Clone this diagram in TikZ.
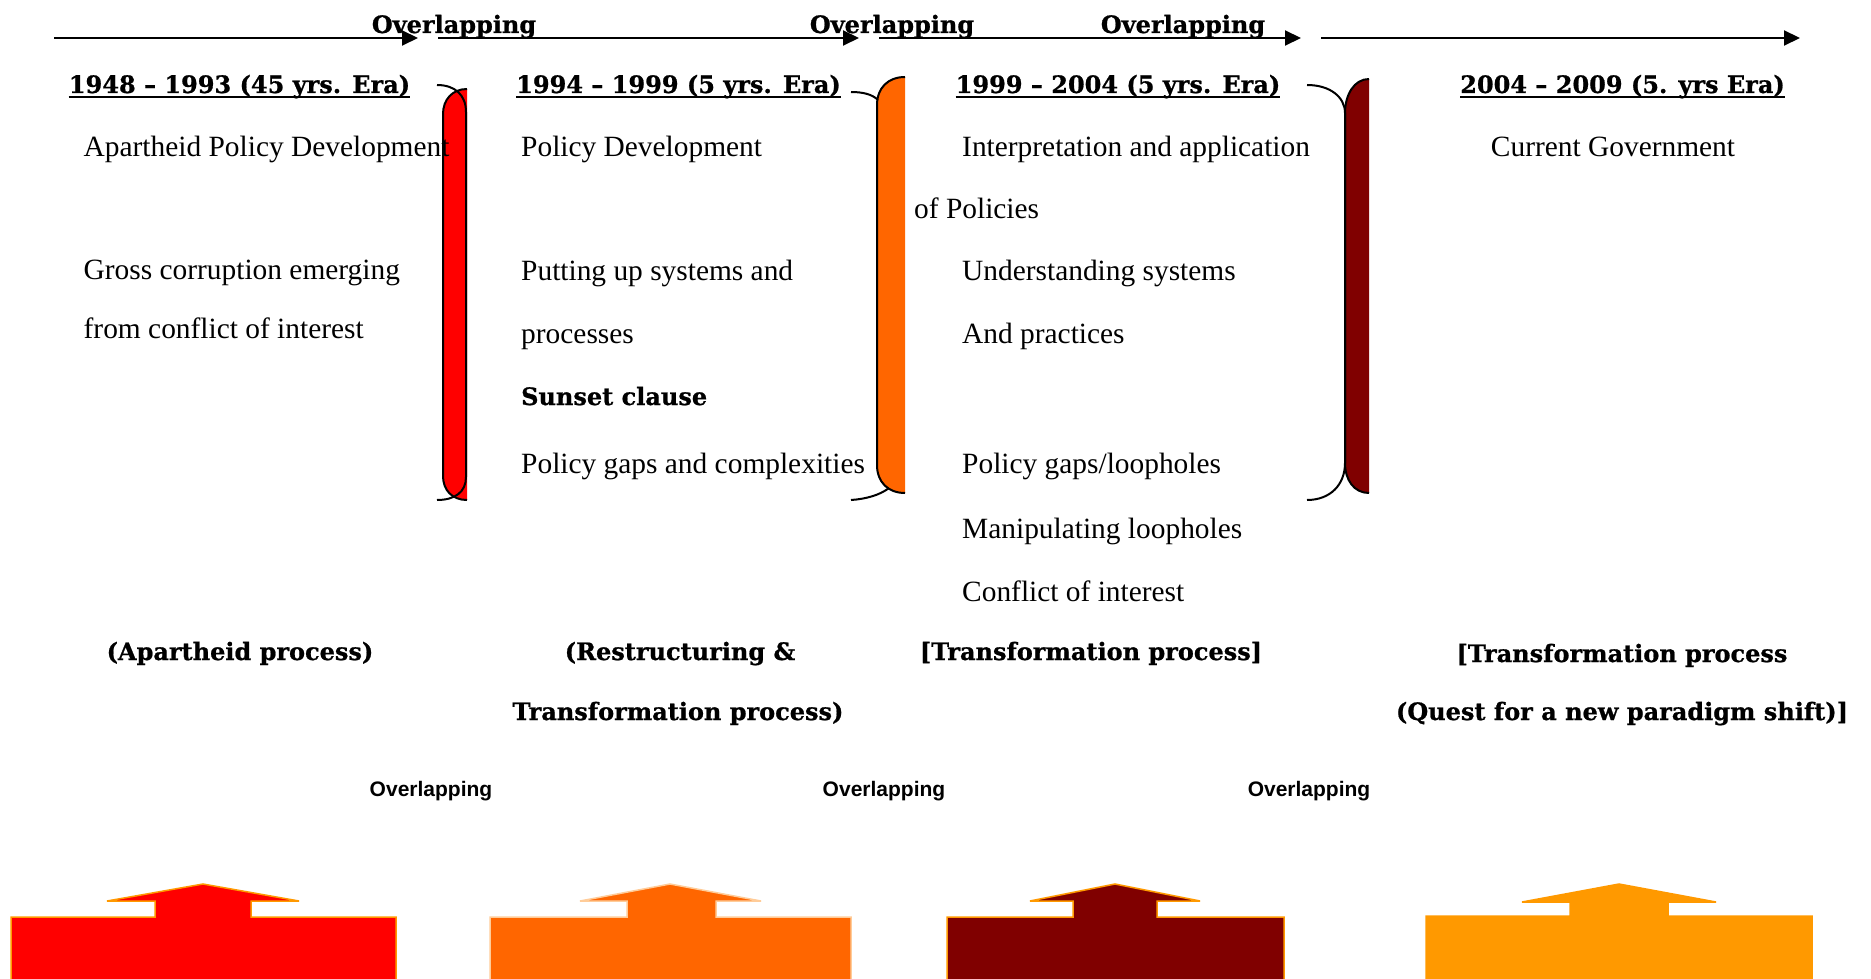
\documentclass[tikz,border=0pt]{standalone}
\usepackage{fontspec}
\setmainfont{Liberation Serif}
\newfontfamily\hfont{DejaVu Serif}[BoldFeatures={FakeBold=0.8}]
\newfontfamily\sfb{Liberation Sans}
\usetikzlibrary{arrows.meta}
\definecolor{cRed}{HTML}{FF0000}
\definecolor{cOrange}{HTML}{FF6600}
\definecolor{cMaroon}{HTML}{800000}
\definecolor{cGold}{HTML}{FF9900}
\definecolor{cPale}{HTML}{FFCC99}
\tikzset{
  body/.style={font=\fontsize{29.4}{29.4}\selectfont, inner sep=0pt, anchor=base west},
  bodyc/.style={font=\fontsize{29.4}{29.4}\selectfont, inner sep=0pt, anchor=base},
  boldt/.style={font=\hfont\bfseries\fontsize{24}{24}\selectfont, inner sep=0pt, anchor=base},
  boldl/.style={font=\hfont\bfseries\fontsize{24}{24}\selectfont, inner sep=0pt, anchor=base west},
  ovtop/.style={font=\hfont\bfseries\fontsize{24}{24}\selectfont, inner sep=0pt, anchor=base},
  ovbot/.style={font=\sfb\bfseries\fontsize{21}{21}\selectfont, inner sep=0pt, anchor=base},
  uline/.style={line width=2pt},
  timeline/.style={line width=2pt, -{Triangle[length=16pt,width=15pt]}},
  brk/.style={line width=2pt, black},
  bigarrow/.style={line width=1.5pt},
}
\begin{document}
\begin{tikzpicture}[x=1pt,y=-1pt]
\useasboundingbox (0,0) rectangle (1871,979);
% top timeline arrows
\coordinate (a1s) at (54,38);   \coordinate (a1e) at (418,38);
\coordinate (a2s) at (438,38);  \coordinate (a2e) at (859,38);
\coordinate (a3s) at (879,38);  \coordinate (a3e) at (1301,38);
\coordinate (a4s) at (1321,38); \coordinate (a4e) at (1800,38);
\draw[timeline] (a1s) -- (a1e);
\draw[timeline] (a2s) -- (a2e);
\draw[timeline] (a3s) -- (a3e);
\draw[timeline] (a4s) -- (a4e);
\node[ovtop] (ot1) at (454,33) {Overlapping};
\node[ovtop] (ot2) at (892,33) {Overlapping};
\node[ovtop] (ot3) at (1183,33) {Overlapping};
% headings
\node[boldt] (h1) at (239.5,93) {1948 – 1993 (45 yrs. Era)};
\node[boldt] (h2) at (678.5,93) {1994 – 1999 (5 yrs. Era)};
\node[boldt] (h3) at (1118,93) {1999 – 2004 (5 yrs. Era)};
\node[boldt] (h4) at (1622.5,93) {2004 – 2009 (5. yrs Era)};
\foreach \h in {h1,h2,h3,h4}{
  \draw[uline] ([yshift=-4pt]\h.base west) -- ([yshift=-4pt]\h.base east);
}
% brackets
\fill[cRed] (467,89) .. controls (452,89) and (443,100) .. (443,114) -- (443,476) .. controls (443,490) and (452,500) .. (467,500) -- cycle;
\draw[brk] (467,89) .. controls (452,89) and (443,100) .. (443,114) -- (443,476) .. controls (443,490) and (452,500) .. (467,500);
\draw[brk] (437,85) .. controls (455,85) and (466,95) .. (466,112) -- (466,477) .. controls (466,492) and (455,500) .. (437,500);

\fill[cOrange] (905,77) .. controls (888,77) and (877,88) .. (877,105) -- (877,465) .. controls (877,482) and (888,493) .. (905,493) -- cycle;
\draw[brk] (905,77) .. controls (888,77) and (877,88) .. (877,105) -- (877,465) .. controls (877,482) and (888,493) .. (905,493);
\draw[brk] (851,92) .. controls (862,92) and (872,94) .. (878,100);
\draw[brk] (851,500) .. controls (866,499) and (880,495) .. (889,488);

\fill[cMaroon] (1369,79) .. controls (1354,79) and (1345,95) .. (1345,113) -- (1345,463) .. controls (1345,480) and (1354,493) .. (1369,493) -- cycle;
\draw[brk] (1369,79) .. controls (1354,79) and (1345,95) .. (1345,113) -- (1345,463) .. controls (1345,480) and (1354,493) .. (1369,493);
\draw[brk] (1307,85) .. controls (1330,85) and (1345,97) .. (1345,113) -- (1345,463) .. controls (1345,485) and (1330,500) .. (1307,500);
% column 1
\node[body] (c1a) at (83.5,157) {Apartheid Policy Development};
\node[body] (c1b) at (83.5,279) {Gross corruption emerging};
\node[body] (c1c) at (83.5,338) {from conflict of interest};
% column 2
\node[body] (c2a) at (521,157) {Policy Development};
\node[body] (c2b) at (521,280) {Putting up systems and};
\node[body] (c2c) at (521,343) {processes};
\node[boldl] (c2d) at (521,405) {Sunset clause};
\node[body] (c2e) at (521,473) {Policy gaps and complexities};
% column 3
\node[body] (c3a) at (962,157) {Interpretation and application};
\node[body] (c3b) at (914,218) {of Policies};
\node[body] (c3c) at (962,280) {Understanding systems};
\node[body] (c3d) at (962,343) {And practices};
\node[body] (c3e) at (962,473) {Policy gaps/loopholes};
\node[body] (c3f) at (962,538) {Manipulating loopholes};
\node[body] (c3g) at (962,601) {Conflict of interest};
% column 4
\node[bodyc] (c4a) at (1613,157) {Current Government};
% process labels
\node[boldt] (p1) at (240,660) {(Apartheid process)};
\node[boldt] (p2a) at (680,660) {(Restructuring \&};
\node[boldt] (p2b) at (678,720) {Transformation process)};
\node[boldt] (p3) at (1091,660) {[Transformation process]};
\node[boldt] (p4a) at (1622,662) {[Transformation process};
\node[boldt] (p4b) at (1622,720) {(Quest for a new paradigm shift)]};
% bottom overlapping
\node[ovbot] (ob1) at (431,796) {Overlapping};
\node[ovbot] (ob2) at (884,796) {Overlapping};
\node[ovbot] (ob3) at (1309,796) {Overlapping};
% bottom block arrows
\filldraw[bigarrow, fill=cRed, draw=cGold] (11,981) -- (11,917) -- (155,917) -- (155,901) -- (107,901) -- (203,884) -- (299,901) -- (251,901) -- (251,917) -- (396,917) -- (396,981) -- cycle;
\filldraw[bigarrow, fill=cOrange, draw=cPale] (490,981) -- (490,917) -- (627,917) -- (627,901) -- (580,901) -- (670,884) -- (761,901) -- (716,901) -- (716,917) -- (851,917) -- (851,981) -- cycle;
\filldraw[bigarrow, fill=cMaroon, draw=cGold] (947,981) -- (947,917) -- (1073,917) -- (1073,901) -- (1030,901) -- (1115,884) -- (1200,901) -- (1157,901) -- (1157,917) -- (1284,917) -- (1284,981) -- cycle;
\filldraw[bigarrow, fill=cGold, draw=cGold] (1426,981) -- (1426,916) -- (1570,916) -- (1570,902) -- (1522,902) -- (1619,884) -- (1716,902) -- (1668,902) -- (1668,916) -- (1812,916) -- (1812,981) -- cycle;
\end{tikzpicture}
\end{document}
